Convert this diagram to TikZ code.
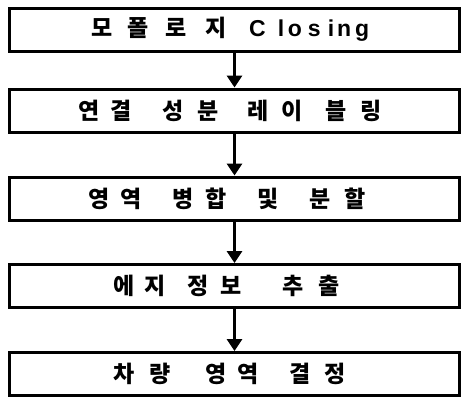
\documentclass[tikz,border=0pt]{standalone}
\usepackage{fontspec}
\setmainfont{Noto Sans CJK KR}
\newfontfamily\latinfont{Liberation Sans}
\usetikzlibrary{arrows.meta}
\newcommand{\gl}[2]{\rlap{\hspace*{\dimexpr #1pt-11.5pt\relax}#2}}
\newcommand{\lt}[2]{\rlap{\hspace*{\dimexpr #1pt-10.5pt\relax}{\latinfont\fontsize{23pt}{25pt}\selectfont #2}}}
\tikzset{
  stepbox/.style={draw, line width=3pt, minimum width=450pt, minimum height=43pt,
    inner sep=0pt, font=\fontsize{23pt}{25pt}\selectfont\bfseries},
  flow/.style={line width=3pt, -{Triangle[width=15pt,length=12pt]}}
}
\begin{document}
\begin{tikzpicture}[x=1pt,y=-1pt]
\useasboundingbox (0,0) rectangle (462,400);
\node[stepbox] (b1) at (234.5,29.5) {\makebox[450pt][l]{\gl{93}{모}\gl{130}{폴}\gl{168}{로}\gl{208}{지}\lt{250}{C}\lt{279}{l}\lt{289}{o}\lt{309}{s}\lt{329}{i}\lt{338}{n}\lt{356}{g}}};
\node[stepbox] (b2) at (234.5,110.5) {\makebox[450pt][l]{\gl{80}{연}\gl{113}{결}\gl{165}{성}\gl{200}{분}\gl{250}{레}\gl{283}{이}\gl{327}{블}\gl{363}{링}}};
\node[stepbox] (b3) at (234.5,198.5) {\makebox[450pt][l]{\gl{90}{영}\gl{123}{역}\gl{175}{병}\gl{208}{합}\gl{260}{및}\gl{312}{분}\gl{347}{할}}};
\node[stepbox] (b4) at (234.5,286) {\makebox[450pt][l]{\gl{115}{에}\gl{147}{지}\gl{190}{정}\gl{223}{보}\gl{285}{추}\gl{320}{출}}};
\node[stepbox] (b5) at (234.5,374) {\makebox[450pt][l]{\gl{115}{차}\gl{152}{량}\gl{207}{영}\gl{240}{역}\gl{292}{결}\gl{327}{정}}};
\draw[flow] (b1.south) -- (b2.north);
\draw[flow] (b2.south) -- (b3.north);
\draw[flow] (b3.south) -- (b4.north);
\draw[flow] (b4.south) -- (b5.north);
\end{tikzpicture}
\end{document}
